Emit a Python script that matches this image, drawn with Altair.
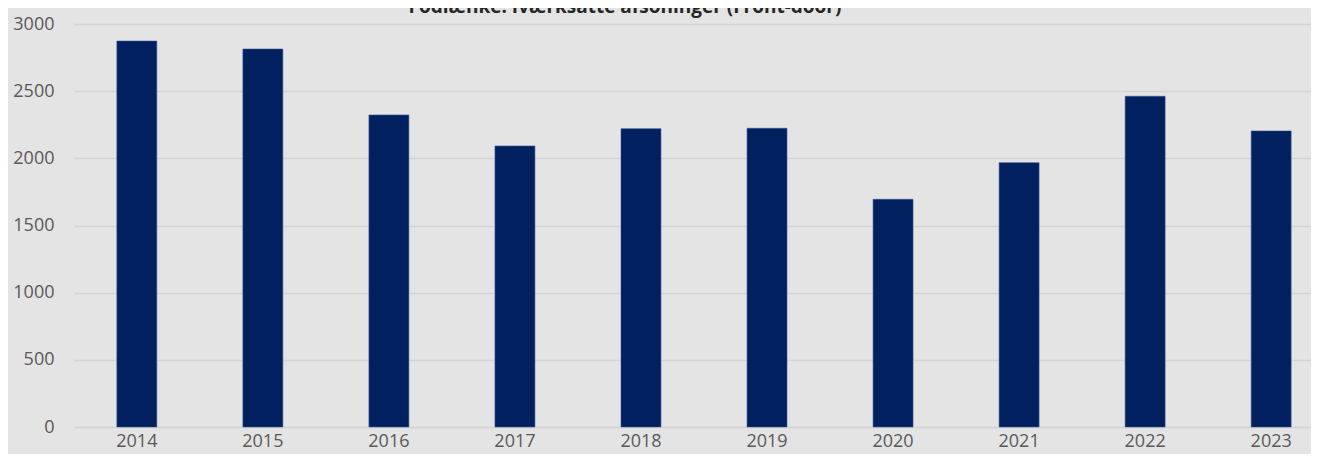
import altair as alt
import pandas as pd

years = ["2014", "2015", "2016", "2017", "2018", "2019", "2020", "2021", "2022", "2023"]
values = [2873, 2814, 2323, 2092, 2221, 2224, 1695, 1968, 2462, 2204]
y_ticks = [0, 500, 1000, 1500, 2000, 2500, 3000]
title_text = "Fodlænke: Iværksatte afsoninger (Front-door)"

df = pd.DataFrame({"year": years, "value": values})
title_df = pd.DataFrame({"t": [title_text]})

FONT = "Open Sans"

bars = (
    alt.Chart(df)
    .mark_bar(color="#002060", stroke="#3a5590", strokeWidth=0.6)
    .encode(
        x=alt.X(
            "year:N",
            sort=years,
            title=None,
            scale=alt.Scale(paddingInner=0.683, paddingOuter=0.34, range=[0, 1260]),
            axis=alt.Axis(
                labelAngle=0,
                labelFont=FONT,
                labelFontSize=18,
                labelColor="#595959",
                labelPadding=5,
                ticks=False,
                domainColor="#d4d4d4",
                domainWidth=1.5,
                grid=False,
            ),
        ),
        y=alt.Y(
            "value:Q",
            title=None,
            scale=alt.Scale(domain=[0, 3000], nice=False),
            axis=alt.Axis(
                values=y_ticks,
                format="d",
                labelFont=FONT,
                labelFontSize=18,
                labelColor="#595959",
                labelPadding=20,
                ticks=False,
                domain=False,
                gridColor="#d4d4d4",
                gridWidth=1.5,
                labelBaseline="middle",
            ),
        ),
    )
)

title_mark = (
    alt.Chart(title_df)
    .mark_text(
        font=FONT,
        fontSize=19,
        fontWeight="bold",
        color="#262626",
        align="center",
        baseline="alphabetic",
    )
    .encode(text="t:N", x=alt.value(551), y=alt.value(-11))
)

chart = (
    alt.layer(bars, title_mark)
    .properties(
        width=1237,
        height=403,
        background="#e4e4e4",
        padding={"left": 66, "top": 16, "right": 0, "bottom": 27},
        autosize=alt.AutoSizeParams(type="none"),
    )
    .configure_view(stroke=None)
)

chart.save("out.html", embed_options={"renderer": "svg", "actions": False})
